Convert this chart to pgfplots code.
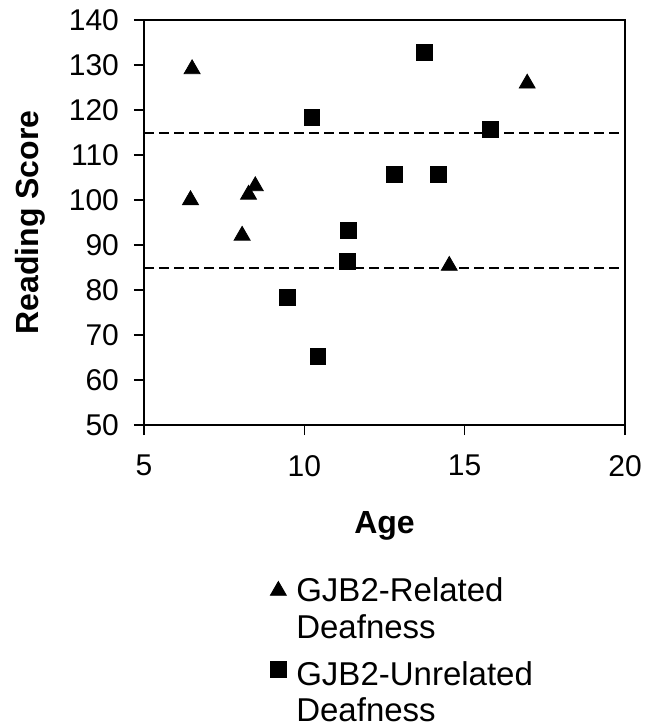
\documentclass[border=0pt]{standalone}
\usepackage{pgfplots}
\pgfplotsset{compat=1.18}
\usepackage{fontspec}
\setmainfont{Liberation Sans}
\begin{document}
\begin{tikzpicture}
\begin{axis}[
 name=ax,
 scale only axis,width=240.5pt,height=202.5pt,
 xmin=5,xmax=20,ymin=50,ymax=140,
 xtick={5,10,15,20},ytick={50,60,...,140},
 tick align=outside,tick pos=left,major tick length=5pt,
 /pgf/number format/assume math mode=true,
 tick label style={font=\fontsize{15}{17}\selectfont},
 xticklabel style={yshift=-6.5pt},
 yticklabel style={xshift=-4pt},
 label style={font=\fontsize{16}{18}\selectfont\bfseries},
 xlabel={Age},ylabel={Reading Score},
 xlabel style={at={(axis description cs:0.5,-0.25)},anchor=center},
 ylabel style={at={(axis description cs:-0.237,0.5)},anchor=center},
 axis line style={line width=0.9pt},
 every tick/.style={black,line width=0.8pt},
 legend style={draw=none,at={(0.243,-0.37)},anchor=north west,inner sep=0pt,
   font=\fontsize{16.5}{19}\selectfont,row sep=3pt,
   nodes={inner sep=1pt},
   /tikz/every odd column/.style={column sep=4pt}},
 legend cell align=left,
]
\addplot[black,line width=1pt,dash pattern=on 5pt off 2.5pt,forget plot] coordinates {(5,114.8) (20,114.8)};
\addplot[black,line width=1pt,dash pattern=on 5pt off 2.5pt,forget plot] coordinates {(5,85) (20,85)};
\addplot[only marks,mark=triangle*,mark size=4.6pt,black] coordinates {
 (6.5,129.1) (6.45,100) (8.26,101.2) (8.47,103.1) (8.06,92.1) (14.52,85.4) (16.95,125.9)};
\addlegendentry{GJB2-Related}
\addlegendimage{empty legend}
\addlegendentry{Deafness}
\addplot[only marks,mark=square*,mark size=3.9pt,black] coordinates {
 (13.74,132.8) (10.23,118.4) (15.8,115.7) (12.8,105.7) (14.19,105.7)
 (11.37,93.3) (11.35,86.4) (9.48,78.3) (10.42,65.3)};
\addlegendentry{\rule{0pt}{17pt}GJB2-Unrelated}
\addlegendimage{empty legend}
\addlegendentry{Deafness}
\end{axis}
\pgfresetboundingbox
\path ([shift={(-72pt,-150.5pt)}]ax.south west) rectangle ([shift={(13pt,10pt)}]ax.north east);
\end{tikzpicture}
\end{document}
